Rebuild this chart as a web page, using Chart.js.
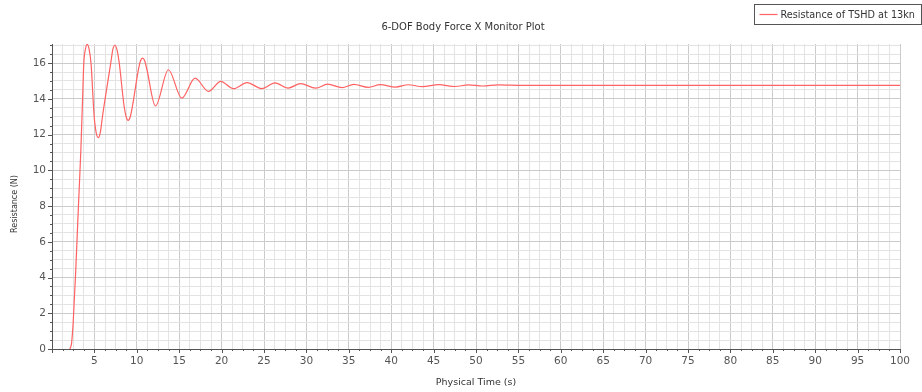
<!DOCTYPE html>
<html>
<head>
<meta charset="utf-8">
<script src="https://cdn.jsdelivr.net/npm/chart.js@4/dist/chart.umd.min.js"></script>
<style>
  html, body { margin: 0; padding: 0; background: #ffffff; }
  #wrap { width: 922px; height: 392px; position: relative; }
</style>
</head>
<body>
<div id="wrap"><canvas id="plot" width="922" height="392"></canvas></div>
<script>
// Monitor samples: physical time (s) and resistance (N) of the TSHD at 13 kn
const timeS = [
  2.1, 2.3, 2.5, 2.8, 3.1, 3.4, 3.6, 3.75, 3.95,
  4.15, 4.37, 4.6, 4.97, 5.2, 5.45, 5.7, 5.96,
  6.94, 7.17, 7.4, 7.66, 7.92, 8.5, 8.74, 8.98, 9.23, 9.49,
  10.2, 10.44, 10.68, 10.93, 11.18, 12.2, 13.73, 15.3, 16.87, 18.45, 19.9,
  21.4, 23.0, 24.75, 26.3, 27.85, 29.3, 31.1, 32.5, 34.2, 35.6,
  37.3, 38.7, 40.5, 42.0, 43.7, 45.6, 47.5, 49.1, 50.8, 52.6,
  55.5, 60, 70, 80, 90, 100
];
const resistanceN = [
  0, 0.3, 1.5, 4.4, 7.8, 11.1, 13.9, 16.0, 16.8,
  17.05, 16.8, 16.0, 13.04, 12.13, 11.83, 12.13, 13.04,
  16.04, 16.76, 17.0, 16.76, 16.04, 13.6, 13.0, 12.8, 13.0, 13.6,
  15.67, 16.13, 16.28, 16.13, 15.67, 13.6, 15.63, 14.04, 15.16, 14.42, 14.98,
  14.57, 14.91, 14.57, 14.89, 14.6, 14.85, 14.6, 14.82, 14.63, 14.81,
  14.64, 14.8, 14.66, 14.79, 14.68, 14.8, 14.69, 14.78, 14.72, 14.78,
  14.75, 14.75, 14.75, 14.75, 14.75, 14.75
];
const seriesLabel = 'Resistance of TSHD at 13kn';
const chartTitle = '6-DOF Body Force X Monitor Plot';
const xTitle = 'Physical Time (s)';
const yTitle = 'Resistance (N)';
const xRange = [0, 100];
const yRange = [0, 17.07];
const xStep = 1.25, xLabelEvery = 5;
const yStep = 0.5, yLabelEvery = 2;

const FONT = 'DejaVu Sans';
const LINE_RED = '#ff6262';

function isMultiple(v, m) {
  const r = Math.abs(v / m - Math.round(v / m));
  return r < 1e-6;
}

// Outward tick marks: long at labelled values, short in between
const axisTicks = {
  id: 'axisTicks',
  afterDraw(chart) {
    const ctx = chart.ctx;
    const xs = chart.scales.x, ys = chart.scales.y;
    ctx.save();
    ctx.strokeStyle = '#555555';
    ctx.lineWidth = 1;
    ctx.beginPath();
    xs.ticks.forEach(t => {
      const px = Math.round(xs.getPixelForValue(t.value)) + 0.5;
      const len = isMultiple(t.value, xLabelEvery) ? 4 : 2;
      ctx.moveTo(px, xs.top);
      ctx.lineTo(px, xs.top + len);
    });
    ys.ticks.forEach(t => {
      const py = Math.round(ys.getPixelForValue(t.value)) + 0.5;
      const len = isMultiple(t.value, yLabelEvery) ? 4 : 2;
      ctx.moveTo(ys.right, py);
      ctx.lineTo(ys.right - len, py);
    });
    ctx.stroke();
    ctx.restore();
  }
};

// Page title centred on the canvas and the vertical axis caption
const captions = {
  id: 'captions',
  afterDraw(chart) {
    const ctx = chart.ctx;
    ctx.save();
    ctx.fillStyle = '#333333';
    ctx.textAlign = 'center';
    ctx.textBaseline = 'middle';
    ctx.font = '10px "' + FONT + '"';
    ctx.fillText(chartTitle, chart.width / 2 + 2, 27);
    ctx.translate(15, 204);
    ctx.rotate(-Math.PI / 2);
    ctx.font = '8px "' + FONT + '"';
    ctx.fillText(yTitle, 0, 0);
    ctx.restore();
  }
};

// Boxed legend in the top-right corner
const boxedLegend = {
  id: 'boxedLegend',
  afterDraw(chart) {
    const ctx = chart.ctx;
    const ds = chart.data.datasets[0];
    const x0 = 754.5, y0 = 4.5, w = 167, h = 20;
    ctx.save();
    ctx.fillStyle = '#ffffff';
    ctx.fillRect(x0, y0, w, h);
    ctx.strokeStyle = '#555555';
    ctx.lineWidth = 1;
    ctx.strokeRect(x0, y0, w, h);
    ctx.strokeStyle = ds.borderColor;
    ctx.lineWidth = 1.2;
    ctx.beginPath();
    ctx.moveTo(x0 + 5, y0 + 10);
    ctx.lineTo(x0 + 23, y0 + 10);
    ctx.stroke();
    ctx.fillStyle = '#333333';
    ctx.font = '9.7px "' + FONT + '"';
    ctx.textBaseline = 'middle';
    ctx.textAlign = 'left';
    ctx.fillText(ds.label, x0 + 26, y0 + 10.5);
    ctx.restore();
  }
};

const points = timeS.map((t, i) => ({ x: t, y: resistanceN[i] }));

new Chart(document.getElementById('plot'), {
  type: 'line',
  data: {
    datasets: [{
      label: seriesLabel,
      data: points,
      borderColor: LINE_RED,
      borderWidth: 1.2,
      pointRadius: 0,
      fill: false,
      cubicInterpolationMode: 'monotone'
    }]
  },
  options: {
    responsive: false,
    animation: false,
    layout: { padding: { left: 0, right: 22, top: 44, bottom: 0 } },
    plugins: {
      legend: { display: false },
      tooltip: { enabled: false },
      title: { display: false }
    },
    scales: {
      x: {
        type: 'linear',
        min: xRange[0], max: xRange[1],
        afterFit(s) { s.height = 43; },
        border: { display: true, color: '#555555', width: 1 },
        grid: {
          drawTicks: false,
          lineWidth: 1,
          color: c => isMultiple(c.tick.value, xLabelEvery) ? '#cbcbcb' : '#e3e3e3'
        },
        ticks: {
          stepSize: xStep,
          autoSkip: false,
          maxRotation: 0,
          includeBounds: false,
          padding: 6,
          color: '#555555',
          font: { family: FONT, size: 10.5 },
          callback: v => (isMultiple(v, xLabelEvery) && v !== 0) ? String(Math.round(v)) : ''
        },
        title: {
          display: true,
          text: xTitle,
          color: '#333333',
          font: { family: FONT, size: 9.5 },
          padding: { top: 0, bottom: 4 }
        }
      },
      y: {
        type: 'linear',
        min: yRange[0], max: yRange[1],
        afterFit(s) { s.width = 52; },
        border: { display: true, color: '#555555', width: 1 },
        grid: {
          drawTicks: false,
          lineWidth: 1,
          color: c => isMultiple(c.tick.value, yLabelEvery) ? '#cbcbcb' : '#e3e3e3'
        },
        ticks: {
          stepSize: yStep,
          autoSkip: false,
          includeBounds: false,
          padding: 6,
          color: '#555555',
          font: { family: FONT, size: 10.5 },
          callback: v => isMultiple(v, yLabelEvery) ? String(Math.round(v)) : ''
        }
      }
    }
  },
  plugins: [axisTicks, captions, boxedLegend]
});
</script>
</body>
</html>
